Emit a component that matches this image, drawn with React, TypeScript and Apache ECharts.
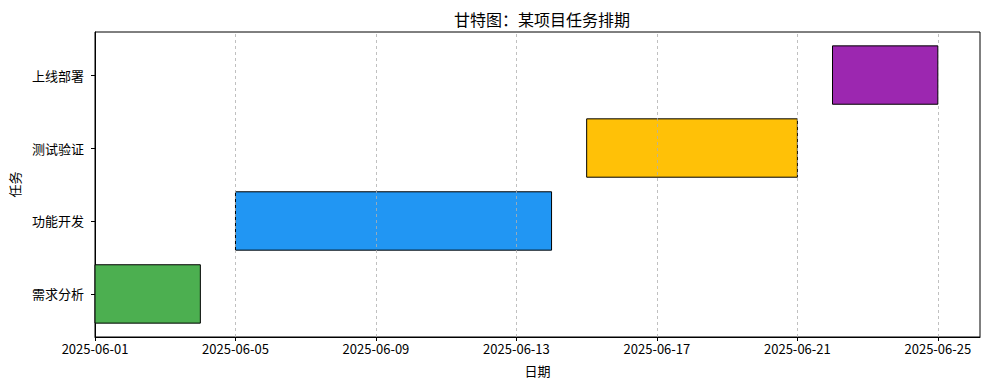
import React, { useEffect, useRef } from "react";
import * as echarts from "echarts";

const tasks = ["需求分析", "功能开发", "测试验证", "上线部署"];
const startDates = ["2025-06-01", "2025-06-05", "2025-06-15", "2025-06-22"];
const endDates = ["2025-06-04", "2025-06-14", "2025-06-21", "2025-06-25"];
const colors = ["#4caf50", "#2196f3", "#ffc107", "#9c27b0"];
const tickDates = ["2025-06-01", "2025-06-05", "2025-06-09", "2025-06-13", "2025-06-17", "2025-06-21", "2025-06-25"];
const baseDate = "2025-06-01";

const DAY = 86400000;
const toOffset = (d: string) => (Date.parse(d + "T00:00:00Z") - Date.parse(baseDate + "T00:00:00Z")) / DAY;
const fromOffset = (o: number) => new Date(Date.parse(baseDate + "T00:00:00Z") + Math.round(o) * DAY).toISOString().slice(0, 10);

const FONT = "'Noto Sans CJK SC', 'Noto Sans', sans-serif";

export default function App() {
  const ref = useRef<HTMLDivElement>(null);
  useEffect(() => {
    if (!ref.current) return;
    const chart = echarts.init(ref.current, null, { renderer: "svg" });
    const tickOffsets = tickDates.map(toOffset);
    const data = tasks.map((t, i) => [toOffset(startDates[i]), toOffset(endDates[i]), i]);
    chart.setOption({
      animation: false,
      backgroundColor: "#fff",
      textStyle: { fontFamily: FONT },
      title: {
        text: "甘特图：某项目任务排期",
        left: 537,
        textAlign: "center",
        top: 6,
        textStyle: { fontFamily: FONT, fontSize: 16, fontWeight: "normal", color: "#000" },
      },
      grid: {
        left: 95, right: 9, top: 32, bottom: 53,
        show: true, borderColor: "#000", borderWidth: 1, backgroundColor: "transparent",
      },
      xAxis: {
        type: "value",
        min: 0,
        max: 25.2,
        name: "日期",
        nameLocation: "middle",
        nameGap: 27,
        nameTextStyle: { fontFamily: FONT, fontSize: 13, color: "#000" },
        axisLine: { show: true, onZero: false, lineStyle: { color: "#000", width: 1 } },
        axisTick: { show: true, length: 4, lineStyle: { color: "#000" }, customValues: tickOffsets },
        axisLabel: {
          customValues: tickOffsets,
          formatter: (v: number) => fromOffset(v),
          fontFamily: FONT, fontSize: 13, color: "#000", margin: 5,
        },
        splitLine: { show: false },
      },
      yAxis: {
        type: "value",
        min: -0.59,
        max: 3.59,
        name: "任务",
        nameLocation: "middle",
        nameGap: 72,
        nameTextStyle: { fontFamily: FONT, fontSize: 13, color: "#000" },
        axisLine: { show: true, onZero: false, lineStyle: { color: "#000", width: 1 } },
        axisTick: { show: true, length: 4, lineStyle: { color: "#000" }, customValues: [0, 1, 2, 3] },
        axisLabel: {
          customValues: [0, 1, 2, 3],
          formatter: (v: number) => tasks[Math.round(v)] ?? "",
          fontFamily: FONT, fontSize: 13, color: "#000", margin: 11,
        },
        splitLine: { show: false },
      },
      series: [
        {
          type: "custom",
          z: 2,
          data,
          encode: { x: [0, 1], y: 2 },
          renderItem: (params: any, api: any) => {
            const s = api.value(0);
            const e = api.value(1);
            const idx = api.value(2);
            const p1 = api.coord([s, idx + 0.4]);
            const p2 = api.coord([e, idx - 0.4]);
            return {
              type: "rect",
              shape: { x: p1[0], y: p1[1], width: p2[0] - p1[0], height: p2[1] - p1[1] },
              style: { fill: colors[params.dataIndex], stroke: "#000", lineWidth: 1 },
            };
          },
        },
        {
          type: "line",
          z: 10,
          data: [],
          markLine: {
            silent: true,
            symbol: ["none", "none"],
            label: { show: false },
            lineStyle: { color: "#b0b0b0", width: 0.8, type: [3, 3] },
            data: tickOffsets.slice(1).map((o) => ({ xAxis: o })),
          },
        },
      ],
    });
    return () => chart.dispose();
  }, []);
  return <div ref={ref} style={{ width: 989, height: 390, position: "absolute", left: 0, top: 0 }} />;
}
